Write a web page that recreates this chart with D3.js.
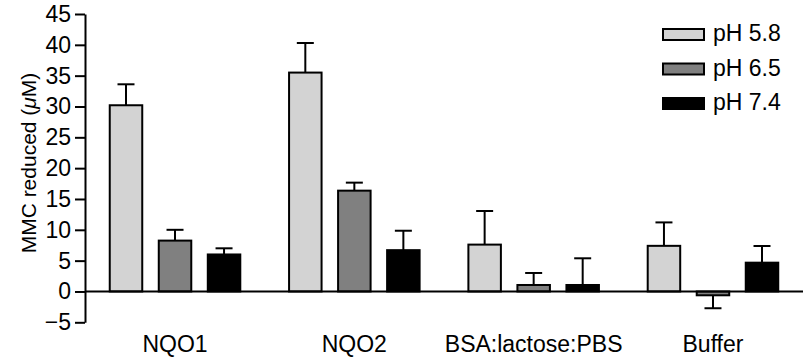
<!DOCTYPE html>
<html>
<head>
<meta charset="utf-8">
<script src="https://cdn.jsdelivr.net/npm/d3@7"></script>
<style>
  body { margin: 0; background: #fff; }
  svg { display: block; font-family: "Liberation Sans", Arial, sans-serif; }
</style>
</head>
<body>
<div id="chart"></div>
<script>
// data
var categories = ["NQO1", "NQO2", "BSA:lactose:PBS", "Buffer"];
var series = ["pH 5.8", "pH 6.5", "pH 7.4"];
var means = [
    [30.2, 8.25, 6.0],
    [35.5, 16.35, 6.7],
    [7.6, 1.05, 1.05],
    [7.4, -0.62, 4.67]
];
var errors = [
    [3.4, 1.75, 1.0],
    [4.8, 1.3, 3.15],
    [5.45, 1.95, 4.33],
    [3.8, 2.1, 2.7]
];
var yTicks = [-5, 0, 5, 10, 15, 20, 25, 30, 35, 40, 45];
var fills = ["#d3d3d3", "#808080", "#000000"];

var width = 805, height = 358;

var svg = d3.select('#chart')
    .append('svg')
    .attr('width', width)
    .attr('height', height)

var y = d3.scaleLinear()
    .domain([-5, 45])
    .range([322.3, 14])

var x0 = d3.scaleBand()
    .domain(categories)
    .range([85, 803])
    .paddingInner(0.272)
    .paddingOuter(0.138)

var x1 = d3.scaleBand()
    .domain(series)
    .range([0, x0.bandwidth()])
    .paddingInner(0.337)
    .paddingOuter(0)

var color = d3.scaleOrdinal().domain(series).range(fills)

// flatten into rows for drawing
var rows = []
categories.forEach(function(c, i) {
    series.forEach(function(s, j) {
        rows.push({cat: c, ser: s, v: means[i][j], e: errors[i][j]})
    })
})

// error bars (drawn outward only)
var eb = svg.append('g')
    .attr('stroke', '#000')
    .attr('stroke-width', 2)
    .selectAll('g')
    .data(rows)
    .enter()
    .append('g')

eb.append('line')
    .attr('x1', function(d){ return x0(d.cat) + x1(d.ser) + x1.bandwidth() / 2 })
    .attr('x2', function(d){ return x0(d.cat) + x1(d.ser) + x1.bandwidth() / 2 })
    .attr('y1', function(d){ return y(d.v) })
    .attr('y2', function(d){ return y(d.v >= 0 ? d.v + d.e : d.v - d.e) })

eb.append('line')
    .attr('x1', function(d){ return x0(d.cat) + x1(d.ser) + x1.bandwidth() / 2 - 8.5 })
    .attr('x2', function(d){ return x0(d.cat) + x1(d.ser) + x1.bandwidth() / 2 + 8.5 })
    .attr('y1', function(d){ return y(d.v >= 0 ? d.v + d.e : d.v - d.e) })
    .attr('y2', function(d){ return y(d.v >= 0 ? d.v + d.e : d.v - d.e) })

// bars
svg.append('g')
    .selectAll('rect')
    .data(rows)
    .enter()
    .append('rect')
    .attr('x', function(d){ return x0(d.cat) + x1(d.ser) })
    .attr('width', x1.bandwidth())
    .attr('y', function(d){ return y(Math.max(0, d.v)) })
    .attr('height', function(d){ return Math.abs(y(d.v) - y(0)) })
    .attr('fill', function(d){ return color(d.ser) })
    .attr('stroke', '#000')
    .attr('stroke-width', 2)

// zero line
svg.append('line')
    .attr('x1', 85)
    .attr('x2', 803)
    .attr('y1', y(0))
    .attr('y2', y(0))
    .attr('stroke', '#000')
    .attr('stroke-width', 2)

// y axis
var yAxis = svg.append('g')
    .attr('transform', 'translate(85,0)')
    .call(d3.axisLeft(y).tickValues(yTicks).tickSize(10).tickSizeOuter(0).tickPadding(4))

yAxis.select('.domain').attr('stroke-width', 2)
yAxis.selectAll('.tick line').attr('stroke-width', 2)
yAxis.selectAll('.tick text')
    .attr('font-size', 23)
    .attr('font-family', '"Liberation Sans", Arial, sans-serif')
    .attr('fill', '#000')

// y title
var yTitle = svg.append('text')
    .attr('transform', 'translate(36,163) rotate(-90)')
    .attr('text-anchor', 'middle')
    .attr('font-size', 21)
yTitle.append('tspan').text('MMC reduced (')
yTitle.append('tspan').attr('font-style', 'italic').text('\u03bc')
yTitle.append('tspan').text('M)')

// category labels
svg.append('g')
    .selectAll('text')
    .data(categories)
    .enter()
    .append('text')
    .attr('x', function(d){ return x0(d) + x0.bandwidth() / 2 })
    .attr('y', 352)
    .attr('text-anchor', 'middle')
    .attr('font-size', 23)
    .text(function(d){ return d })

// legend
var legend = svg.append('g')
    .selectAll('g')
    .data(series)
    .enter()
    .append('g')
    .attr('transform', function(d, i){ return 'translate(663,' + (29 + i * 34.5) + ')' })

legend.append('rect')
    .attr('width', 41)
    .attr('height', 11)
    .attr('fill', function(d){ return color(d) })
    .attr('stroke', '#000')
    .attr('stroke-width', 2)

legend.append('text')
    .attr('x', 50)
    .attr('y', 12)
    .attr('font-size', 23)
    .text(function(d){ return d })
</script>
</body>
</html>
